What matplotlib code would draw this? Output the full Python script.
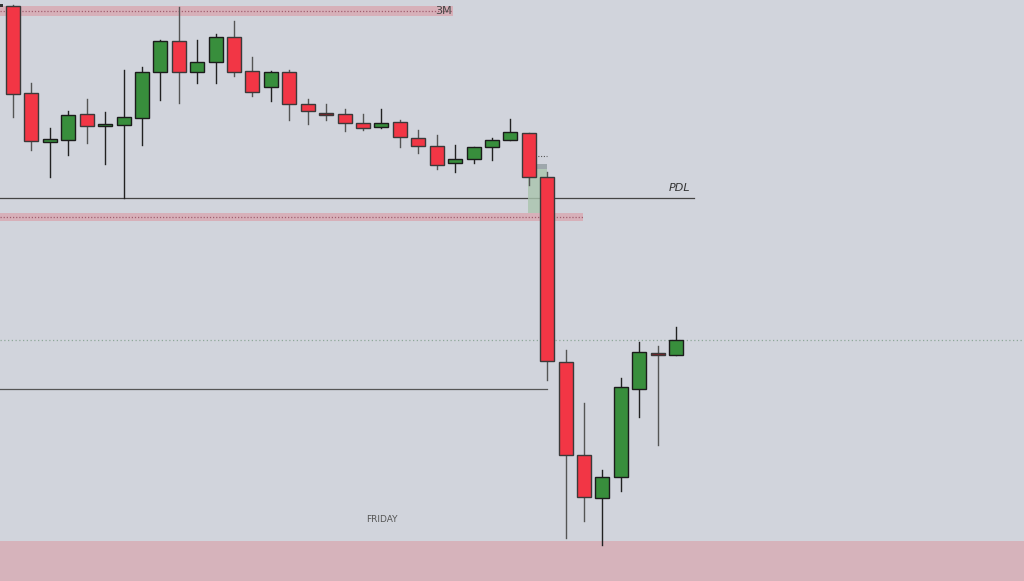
import matplotlib
matplotlib.use("Agg")
import matplotlib.pyplot as plt
from matplotlib.patches import Rectangle

# OHLC values (price units)
opens  = [575, 488, 439, 441, 467, 455, 456, 463, 509, 540, 509, 519, 544, 510, 494, 509, 477, 468, 467,
          458, 454, 459, 443, 435, 418, 422, 434, 441, 448, 404, 219, 126, 83, 104, 192, 228, 226]
highs  = [576, 498, 453, 470, 482, 469, 511, 514, 541, 574, 541, 547, 560, 524, 510, 511, 482, 477, 472,
          467, 472, 461, 451, 446, 436, 434, 443, 462, 448, 409, 231, 178, 111, 203, 239, 235, 254]
lows   = [464, 431, 404, 426, 438, 417, 383, 436, 481, 478, 498, 498, 505, 485, 480, 461, 457, 461, 450,
          451, 453, 434, 428, 412, 409, 418, 421, 441, 396, 201, 43, 60, 36, 90, 164, 136, 226]
closes = [487, 440, 442, 466, 455, 457, 464, 509, 540, 509, 519, 544, 509, 489, 509, 477, 470, 466, 458,
          453, 458, 444, 435, 416, 422, 434, 441, 449, 404, 220, 126, 84, 104, 194, 229, 226, 241]

# Levels
level_3m = 570
level_pdl = 383
level_band2 = 364
level_low_line = 192
level_dotted = 241
zone_bottom_top = 40
label_3m = "3M"
label_pdl = "PDL"
label_friday = "FRIDAY"

BG = "#d1d4dc"
RED = "#f23645"
GREEN = "#388e3c"
PINK = "#d6b3bb"

W, H = 1024, 581
fig = plt.figure(figsize=(W / 100, H / 100), dpi=100, facecolor=BG)
ax = fig.add_axes([0, 0, 1, 1])
ax.set_facecolor(BG)

step = 18.42
x0 = 13.0
ax.set_xlim(-x0 / step, (W - x0) / step)
ax.set_ylim(0, H)
ax.axis("off")

def px(p):
    """pixel x -> index units"""
    return (p - x0) / step

# bottom zone
ax.axhspan(0, zone_bottom_top, color=PINK, lw=0, zorder=1)

# top 3M band
ax.add_patch(Rectangle((px(0), level_3m - 5), px(453) - px(0), 10, color="#d9aab3", alpha=0.85, lw=0, zorder=1))
ax.plot([px(0), px(453)], [level_3m, level_3m], ls=(0, (1, 1.5)), color="#a06070", lw=0.9, zorder=2)
ax.text(px(443), level_3m, label_3m, ha="center", va="center", fontsize=8, color="#444444", zorder=5)

# second band
ax.add_patch(Rectangle((px(0), level_band2 - 4), px(583) - px(0), 8, color="#d9aab3", alpha=0.85, lw=0, zorder=1))
ax.plot([px(0), px(583)], [level_band2, level_band2], ls=(0, (1, 1.5)), color="#a06070", lw=0.9, zorder=2)

# PDL line
ax.plot([px(0), px(694)], [level_pdl, level_pdl], color="#444444", lw=0.9, zorder=2)
ax.text(px(680), level_pdl + 10, label_pdl, ha="center", va="center", fontsize=8, style="italic", color="#333333", zorder=5)

# lower line
ax.plot([px(0), px(547)], [level_low_line, level_low_line], color="#555555", lw=0.9, zorder=2)

# dotted full-width line
ax.plot([px(0), px(W)], [level_dotted, level_dotted], ls=(0, (1, 2)), color="#8fa89a", lw=0.9, zorder=2)

# green box near breakdown
ax.add_patch(Rectangle((px(528), 368), px(547) - px(528), 49, color="#a9c4ad", alpha=0.8, lw=0, zorder=2))
ax.add_patch(Rectangle((px(535), 412), px(547) - px(535), 5, color="#9aa0aa", alpha=0.8, lw=0, zorder=2))
ax.plot([px(535), px(547)], [425, 425], ls=(0, (1, 1.5)), color="#555555", lw=0.8, zorder=2)

# FRIDAY label
ax.text(px(382), 61, label_friday, ha="center", va="center", fontsize=6.5, color="#555555", zorder=5)

# candles
bw = 14 / step
for i, (o, h, l, c) in enumerate(zip(opens, highs, lows, closes)):
    up = c >= o
    col = GREEN if up else RED
    wick_col = "#222222" if up else "#555555"
    ax.plot([i, i], [l, h], color=wick_col, lw=1.0, zorder=3)
    lo, hi = min(o, c), max(o, c)
    hgt = max(hi - lo, 1.5)
    edge = "#1b1b1b" if up else "#3a3a3a"
    fc = col
    if hgt <= 3 and not up:
        fc = "#8b1a24"
    ax.add_patch(Rectangle((i - bw / 2, lo), bw, hgt, facecolor=fc, edgecolor=edge, lw=1.0, zorder=4))

# tiny marker top-left
ax.add_patch(Rectangle((px(0), 574), px(3) - px(0), 3, color="#333333", lw=0, zorder=5))

fig.savefig("out.png", dpi=100, facecolor=BG)
